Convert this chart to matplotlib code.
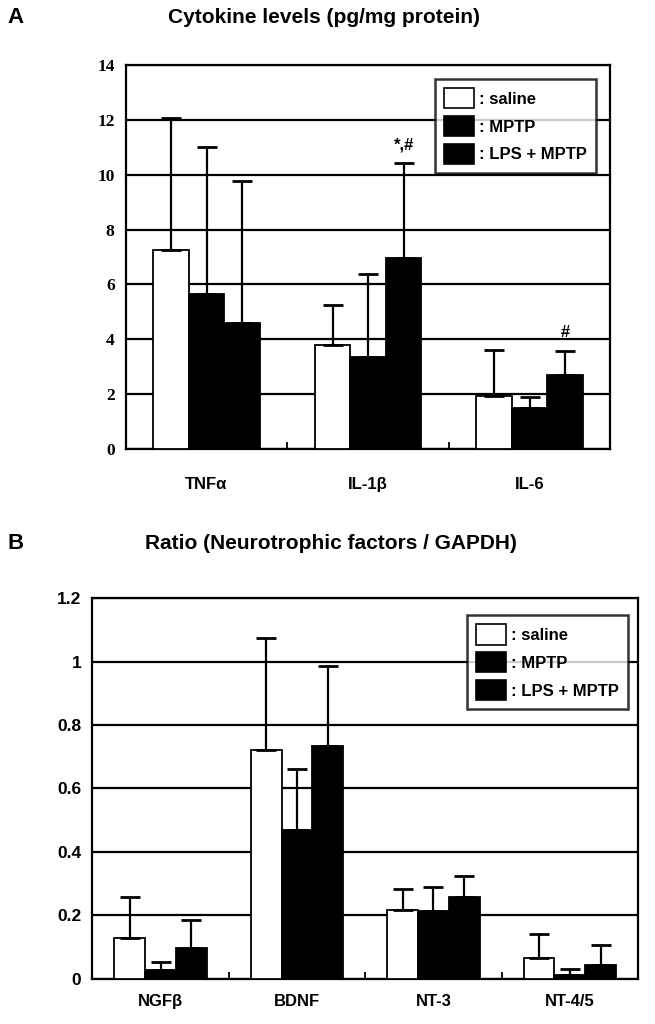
import matplotlib.pyplot as plt
import numpy as np
from matplotlib.patches import Patch

plt.rcParams['font.family'] = ['Liberation Sans', 'DejaVu Sans']

# panel A: cytokines
cyto = ['TNF\u03b1', 'IL-1\u03b2', 'IL-6']
cyto_saline = [7.24, 3.80, 1.93]
cyto_mptp = [5.65, 3.35, 1.48]
cyto_lps = [4.60, 6.96, 2.71]
cyto_saline_sd = [4.83, 1.46, 1.67]
cyto_mptp_sd = [5.37, 3.04, 0.41]
cyto_lps_sd = [5.17, 3.45, 0.85]
cyto_marks = ['', '*,#', '#']

# panel B: neurotrophic factors
neuro = ['NGF\u03b2', 'BDNF', 'NT-3', 'NT-4/5']
neuro_saline = [0.130, 0.722, 0.218, 0.065]
neuro_mptp = [0.027, 0.470, 0.215, 0.012]
neuro_lps = [0.099, 0.733, 0.259, 0.044]
neuro_saline_sd = [0.127, 0.351, 0.065, 0.078]
neuro_mptp_sd = [0.027, 0.190, 0.075, 0.018]
neuro_lps_sd = [0.086, 0.252, 0.064, 0.062]

groups = [': saline', ': MPTP', ': LPS + MPTP']
fills = ['white', 'black', 'black']


def draw(ax, cats, vals, sds, w, ymax, step, tickfont, labpad, legpos):
    x = np.arange(len(cats))
    for i in range(3):
        xi = x + (i - 1) * w
        ax.bar(xi, vals[i], w, color=fills[i], edgecolor='black', linewidth=1.3, zorder=3)
        ax.errorbar(xi, vals[i], yerr=[np.zeros(len(cats)), sds[i]], fmt='none',
                    ecolor='black', elinewidth=1.6, capsize=7, capthick=2, zorder=4)
    ax.set_xlim(-0.5, len(cats) - 0.5)
    ax.set_ylim(0, ymax)
    ax.set_yticks(np.arange(0, ymax + step / 2, step))
    ax.yaxis.grid(True, color='black', linewidth=1.6, zorder=0)
    ax.set_axisbelow(True)
    ax.set_xticks(x)
    ax.set_xticklabels(cats, fontsize=12, fontweight='bold')
    ax.set_xticks(np.arange(0.5, len(cats) - 0.5), minor=True)
    ax.tick_params(axis='x', which='major', length=0, pad=labpad)
    ax.tick_params(axis='x', which='minor', direction='in', length=5, width=1.3)
    ax.tick_params(axis='y', length=0, pad=8)
    for lab in ax.get_yticklabels():
        lab.set_fontweight('bold')
        lab.set_fontsize(12.5)
        lab.set_family(tickfont)
    for s in ax.spines.values():
        s.set_linewidth(1.6)
    handles = [Patch(facecolor=f, edgecolor='black', linewidth=1.2) for f in fills]
    leg = ax.legend(handles, groups, loc='upper right', frameon=True,
                    prop={'size': 12, 'weight': 'bold'},
                    fancybox=False, edgecolor='black', handlelength=1.8, handleheight=1.5,
                    handletextpad=0.3, labelspacing=0.45, borderpad=0.55,
                    borderaxespad=0, bbox_to_anchor=legpos)
    leg.get_frame().set_linewidth(1.8)
    leg.set_zorder(5)
    return x


fig = plt.figure(figsize=(6.55, 10.24), dpi=100)

axA = fig.add_axes([0.192, 0.5615, 0.740, 0.375])
x = draw(axA, cyto, [cyto_saline, cyto_mptp, cyto_lps],
         [cyto_saline_sd, cyto_mptp_sd, cyto_lps_sd], 0.22, 14, 2,
         ['Liberation Serif', 'DejaVu Serif'], 20, (0.971, 0.964))
for xi, v, s, m in zip(x, cyto_lps, cyto_lps_sd, cyto_marks):
    if m:
        axA.text(xi + 0.22, v + s + 0.4, m, ha='center', va='bottom',
                 fontsize=12, fontweight='bold', zorder=6)

axB = fig.add_axes([0.141, 0.044, 0.833, 0.372])
draw(axB, neuro, [neuro_saline, neuro_mptp, neuro_lps],
     [neuro_saline_sd, neuro_mptp_sd, neuro_lps_sd], 0.226, 1.2, 0.2,
     ['Liberation Sans', 'DejaVu Sans'], 11, (0.982, 0.955))
axB.set_yticklabels(['0', '0.2', '0.4', '0.6', '0.8', '1', '1.2'],
                    fontweight='bold', fontsize=12.5)

fig.text(0.012, 0.983, 'A', fontsize=16, fontweight='bold', va='center')
fig.text(0.495, 0.983, 'Cytokine levels (pg/mg protein)', fontsize=15,
         fontweight='bold', ha='center', va='center')
fig.text(0.012, 0.469, 'B', fontsize=16, fontweight='bold', va='center')
fig.text(0.505, 0.469, 'Ratio (Neurotrophic factors / GAPDH)', fontsize=15,
         fontweight='bold', ha='center', va='center')

fig.savefig('out.png', dpi=100)
